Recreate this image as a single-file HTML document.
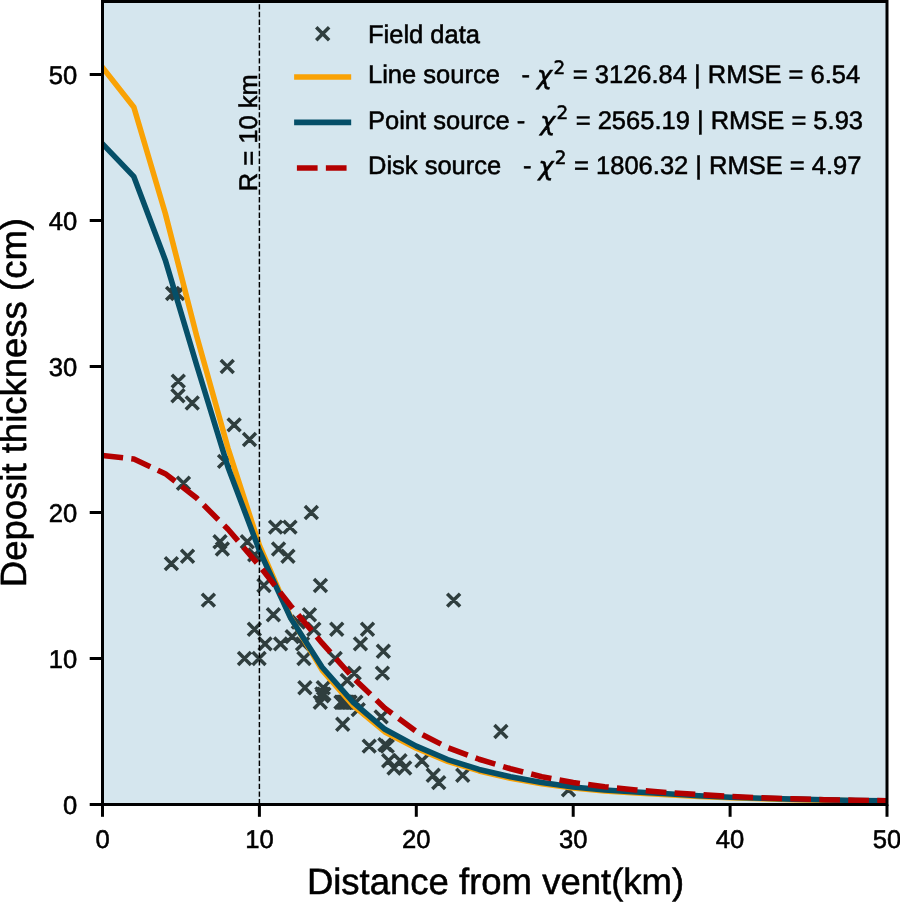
<!DOCTYPE html>
<html lang="en">
<head>
<meta charset="utf-8">
<title>Deposit thickness vs distance from vent</title>
<style>
html,body{margin:0;padding:0;background:#fff;}
body{width:900px;height:902px;overflow:hidden;}
svg{display:block;will-change:transform;}
text{text-rendering:geometricPrecision;stroke:#000;stroke-width:0.55px;}
text{font-family:"Liberation Sans",Arial,Helvetica,sans-serif;fill:#000;}
.tk{font-size:25.6px;}
.ax{font-size:36.5px;}
.lg{font-size:25.5px;}
.m{font-family:"DejaVu Sans",sans-serif;}
</style>
</head>
<body>
<svg width="900" height="902" viewBox="0 0 900 902">
<defs><clipPath id="c"><rect x="102.5" y="1.5" width="784.5" height="803.0"/></clipPath></defs>
<rect x="0" y="0" width="900" height="902" fill="#fff"/>
<rect x="102.5" y="1.5" width="784.5" height="803.0" fill="#d5e6ee"/>
<g clip-path="url(#c)">
<path d="M166.18,287.05L179.08,299.95M166.18,299.95L179.08,287.05M171.05,287.05L183.95,299.95M171.05,299.95L183.95,287.05M220.79,360.05L233.69,372.95M220.79,372.95L233.69,360.05M171.83,374.65L184.73,387.55M171.83,387.55L184.73,374.65M171.52,389.25L184.42,402.15M171.52,402.15L184.42,389.25M185.80,396.55L198.70,409.45M185.80,409.45L198.70,396.55M227.69,418.45L240.59,431.35M227.69,431.35L240.59,418.45M243.07,433.05L255.97,445.95M243.07,445.95L255.97,433.05M218.12,454.95L231.02,467.85M218.12,467.85L231.02,454.95M177.01,476.85L189.91,489.75M177.01,489.75L189.91,476.85M304.88,506.05L317.78,518.95M304.88,518.95L317.78,506.05M269.11,520.65L282.01,533.55M269.11,533.55L282.01,520.65M283.55,520.65L296.45,533.55M283.55,533.55L296.45,520.65M213.57,535.25L226.47,548.15M213.57,548.15L226.47,535.25M240.87,535.25L253.77,548.15M240.87,548.15L253.77,535.25M215.92,542.55L228.82,555.45M215.92,555.45L228.82,542.55M272.09,542.55L284.99,555.45M272.09,555.45L284.99,542.55M281.51,549.85L294.41,562.75M281.51,562.75L294.41,549.85M181.09,549.85L193.99,562.75M181.09,562.75L193.99,549.85M248.24,548.39L261.14,561.29M248.24,561.29L261.14,548.39M164.93,557.15L177.83,570.05M164.93,570.05L177.83,557.15M257.50,579.05L270.40,591.95M257.50,591.95L270.40,579.05M313.98,579.05L326.88,591.95M313.98,591.95L326.88,579.05M201.96,593.65L214.86,606.55M201.96,606.55L214.86,593.65M447.19,593.65L460.09,606.55M447.19,606.55L460.09,593.65M266.91,608.25L279.81,621.15M266.91,621.15L279.81,608.25M303.00,608.25L315.90,621.15M303.00,621.15L315.90,608.25M291.86,615.55L304.76,628.45M291.86,628.45L304.76,615.55M247.93,622.85L260.83,635.75M247.93,635.75L260.83,622.85M307.39,622.85L320.29,635.75M307.39,635.75L320.29,622.85M330.30,622.85L343.20,635.75M330.30,635.75L343.20,622.85M361.05,622.85L373.95,635.75M361.05,635.75L373.95,622.85M285.74,630.15L298.64,643.05M285.74,643.05L298.64,630.15M258.60,637.45L271.50,650.35M258.60,650.35L271.50,637.45M274.13,637.45L287.03,650.35M274.13,650.35L287.03,637.45M296.10,637.45L309.00,650.35M296.10,650.35L309.00,637.45M353.99,637.45L366.89,650.35M353.99,650.35L366.89,637.45M376.90,644.75L389.80,657.65M376.90,657.65L389.80,644.75M238.04,652.05L250.94,664.95M238.04,664.95L250.94,652.05M252.64,652.05L265.54,664.95M252.64,664.95L265.54,652.05M297.51,652.05L310.41,664.95M297.51,664.95L310.41,652.05M328.73,652.05L341.63,664.95M328.73,664.95L341.63,652.05M347.72,666.65L360.62,679.55M347.72,679.55L360.62,666.65M375.96,666.65L388.86,679.55M375.96,679.55L388.86,666.65M340.81,673.95L353.71,686.85M340.81,686.85L353.71,673.95M298.45,681.25L311.35,694.15M298.45,694.15L311.35,681.25M316.81,681.25L329.71,694.15M316.81,694.15L329.71,681.25M315.40,687.38L328.30,700.28M315.40,700.28L328.30,687.38M316.65,688.55L329.55,701.45M316.65,701.45L329.55,688.55M317.44,687.67L330.34,700.57M317.44,700.57L330.34,687.67M316.02,689.43L328.92,702.33M316.02,702.33L328.92,689.43M313.83,695.85L326.73,708.75M313.83,708.75L326.73,695.85M334.54,695.85L347.44,708.75M334.54,708.75L347.44,695.85M335.79,695.85L348.69,708.75M335.79,708.75L348.69,695.85M337.05,695.85L349.95,708.75M337.05,708.75L349.95,695.85M338.30,695.85L351.20,708.75M338.30,708.75L351.20,695.85M339.56,695.85L352.46,708.75M339.56,708.75L352.46,695.85M340.81,695.85L353.71,708.75M340.81,708.75L353.71,695.85M342.38,695.85L355.28,708.75M342.38,708.75L355.28,695.85M343.64,695.85L356.54,708.75M343.64,708.75L356.54,695.85M349.44,695.85L362.34,708.75M349.44,708.75L362.34,695.85M351.80,703.15L364.70,716.05M351.80,716.05L364.70,703.15M374.70,710.45L387.60,723.35M374.70,723.35L387.60,710.45M336.26,717.75L349.16,730.65M336.26,730.65L349.16,717.75M494.42,725.05L507.32,737.95M494.42,737.95L507.32,725.05M362.78,739.65L375.68,752.55M362.78,752.55L375.68,739.65M378.47,738.19L391.37,751.09M378.47,751.09L391.37,738.19M380.82,739.65L393.72,752.55M380.82,752.55L393.72,739.65M382.24,754.25L395.14,767.15M382.24,767.15L395.14,754.25M393.53,754.25L406.43,767.15M393.53,767.15L406.43,754.25M415.50,754.25L428.40,767.15M415.50,767.15L428.40,754.25M387.57,761.55L400.47,774.45M387.57,774.45L400.47,761.55M398.24,761.55L411.14,774.45M398.24,774.45L411.14,761.55M426.80,768.85L439.70,781.75M426.80,781.75L439.70,768.85M456.29,768.85L469.19,781.75M456.29,781.75L469.19,768.85M432.29,776.15L445.19,789.05M432.29,789.05L445.19,776.15M562.04,783.45L574.94,796.35M562.04,796.35L574.94,783.45" stroke="#2f3e3e" stroke-width="3.5" fill="none" stroke-linecap="butt"/>
<path d="M102.50,67.49 L133.88,107.20 L165.26,213.20 L196.64,335.84 L228.02,448.26 L259.40,545.35 L290.78,617.62 L322.16,670.18 L353.54,705.95 L384.92,731.94 L416.30,748.29 L447.68,761.43 L479.06,770.92 L510.44,778.22 L541.82,783.77 L573.20,788.00 L604.58,790.92 L635.96,792.97 L667.34,794.72 L698.72,796.47 L730.10,797.78 L761.48,798.81 L792.86,799.68 L824.24,800.27 L855.62,800.85 L887.00,801.29" stroke="#f9a205" stroke-width="5.56" fill="none" stroke-linejoin="round" stroke-linecap="square"/>
<path d="M102.50,143.85 L133.88,176.70 L165.26,259.92 L196.64,365.04 L228.02,467.24 L259.40,550.46 L290.78,618.35 L322.16,667.26 L353.54,702.74 L384.92,729.31 L416.30,746.10 L447.68,759.53 L479.06,769.46 L510.44,776.76 L541.82,782.60 L573.20,786.98 L604.58,789.90 L635.96,792.09 L667.34,793.84 L698.72,795.74 L730.10,797.20 L761.48,798.22 L792.86,799.10 L824.24,799.83 L855.62,800.41 L887.00,800.85" stroke="#054f68" stroke-width="5.56" fill="none" stroke-linejoin="round" stroke-linecap="square"/>
<path d="M102.50,455.56 L133.88,459.06 L165.26,473.66 L196.64,498.05 L228.02,529.29 L259.40,565.79 L290.78,605.94 L322.16,643.17 L353.54,678.21 L384.92,708.14 L416.30,731.50 L447.68,747.56 L479.06,759.24 L510.44,768.73 L541.82,776.76 L573.20,782.60 L604.58,786.69 L635.96,789.90 L667.34,792.53 L698.72,794.57 L730.10,796.47 L761.48,797.78 L792.86,798.81 L824.24,799.68 L855.62,800.27 L887.00,800.70" stroke="#b30000" stroke-width="5.56" fill="none" stroke-linejoin="round" stroke-dasharray="20.7 8.27"/>
<line x1="259.40" y1="804.5" x2="259.40" y2="1.5" stroke="#000" stroke-width="1.45" stroke-dasharray="5.39 2.328"/>
</g>
<g stroke="#000" stroke-width="3" fill="none">
<line x1="89.7" y1="804.50" x2="102.5" y2="804.50"/>
<line x1="89.7" y1="658.50" x2="102.5" y2="658.50"/>
<line x1="89.7" y1="512.50" x2="102.5" y2="512.50"/>
<line x1="89.7" y1="366.50" x2="102.5" y2="366.50"/>
<line x1="89.7" y1="220.50" x2="102.5" y2="220.50"/>
<line x1="89.7" y1="74.50" x2="102.5" y2="74.50"/>
<line x1="102.50" y1="804.5" x2="102.50" y2="816.8"/>
<line x1="259.40" y1="804.5" x2="259.40" y2="816.8"/>
<line x1="416.30" y1="804.5" x2="416.30" y2="816.8"/>
<line x1="573.20" y1="804.5" x2="573.20" y2="816.8"/>
<line x1="730.10" y1="804.5" x2="730.10" y2="816.8"/>
<line x1="887.00" y1="804.5" x2="887.00" y2="816.8"/>
<rect x="102.5" y="1.5" width="784.5" height="803.0" stroke-linejoin="miter"/>
</g>
<g class="tk">
<text x="77.3" y="813.60" text-anchor="end">0</text>
<text x="77.3" y="667.60" text-anchor="end">10</text>
<text x="77.3" y="521.60" text-anchor="end">20</text>
<text x="77.3" y="375.60" text-anchor="end">30</text>
<text x="77.3" y="229.60" text-anchor="end">40</text>
<text x="77.3" y="83.60" text-anchor="end">50</text>
<text x="102.50" y="848.2" text-anchor="middle">0</text>
<text x="259.40" y="848.2" text-anchor="middle">10</text>
<text x="416.30" y="848.2" text-anchor="middle">20</text>
<text x="573.20" y="848.2" text-anchor="middle">30</text>
<text x="730.10" y="848.2" text-anchor="middle">40</text>
<text x="887.00" y="848.2" text-anchor="middle">50</text>
</g>
<text class="ax" x="495.5" y="894" text-anchor="middle">Distance from vent(km)</text>
<text class="ax" transform="translate(26.1,402.6) rotate(-90)" text-anchor="middle">Deposit thickness (cm)</text>
<text class="lg" transform="translate(256.7,132.8) rotate(-90)" text-anchor="middle">R = 10 km</text>
<!-- legend -->
<path d="M316.25,27.250000000000004L329.15,40.150000000000006M316.25,40.150000000000006L329.15,27.250000000000004" stroke="#2f3e3e" stroke-width="3.5" fill="none"/>
<line x1="296.9" y1="77" x2="348.4" y2="77" stroke="#f9a205" stroke-width="5.56" stroke-linecap="square"/>
<line x1="296.9" y1="122.4" x2="348.4" y2="122.4" stroke="#054f68" stroke-width="5.56" stroke-linecap="square"/>
<line x1="296.9" y1="168" x2="348.4" y2="168" stroke="#b30000" stroke-width="5.56" stroke-dasharray="20.7 8.27"/>
<g class="lg">
<text x="368" y="43">Field data</text>
<text x="368" y="83.3">Line source</text>
<text x="521.5" y="83.3">-</text>
<text class="m" x="537.1" y="84.2" font-style="italic">χ</text>
<text class="m" x="553.4" y="73.8" font-size="18.4">2</text>
<text x="572.8" y="83.3">= 3126.84 | RMSE = 6.54</text>
<text x="368" y="128.6">Point source -</text>
<text class="m" x="540.3" y="129.5" font-style="italic">χ</text>
<text class="m" x="556.6" y="119.1" font-size="18.4">2</text>
<text x="575.7" y="128.6">= 2565.19 | RMSE = 5.93</text>
<text x="368" y="173.8">Disk source</text>
<text x="523.1" y="173.8">-</text>
<text class="m" x="538.4" y="174.7" font-style="italic">χ</text>
<text class="m" x="554.7" y="164.3" font-size="18.4">2</text>
<text x="574.1" y="173.8">= 1806.32 | RMSE = 4.97</text>
</g>
</svg>
</body>
</html>
